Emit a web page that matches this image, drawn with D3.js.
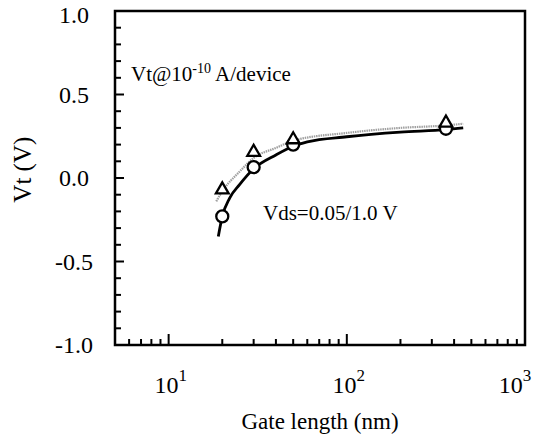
<!DOCTYPE html>
<html>
<head>
<meta charset="utf-8">
<script src="https://cdn.jsdelivr.net/npm/d3@7"></script>
<style>
  body { margin: 0; background: #fff; }
</style>
</head>
<body>
<svg id="chart"></svg>
<script>
// measured points
const gateLen = [20, 30, 50, 360];
const vtLow = [-0.23, 0.065, 0.2, 0.295];   // circles
const vtHigh = [-0.07, 0.155, 0.23, 0.33];  // triangles

// fitted curves
const fitLenLow = [19, 20, 22, 25, 30, 40, 50, 60, 100, 200, 360, 450];
const fitVtLow = [-0.35, -0.23, -0.12, -0.04, 0.055, 0.138, 0.19, 0.216, 0.247, 0.275, 0.29, 0.3];
const fitLenHigh = [18.5, 20, 25, 30, 40, 50, 100, 200, 360, 450];
const fitVtHigh = [-0.14, -0.08, 0.038, 0.12, 0.18, 0.223, 0.27, 0.3, 0.315, 0.325];

const yTicks = [-1.0, -0.5, 0.0, 0.5, 1.0];
const xTicks = [10, 100, 1000];

const width = 535, height = 443;
const margin = { top: 11, right: 10, bottom: 98, left: 115 };
const serif = "'Liberation Serif'";

const svg = d3.select("#chart")
    .attr("width", width)
    .attr("height", height);

const x = d3.scaleLog()
    .domain([5, 1000])
    .range([margin.left, width - margin.right]);

const y = d3.scaleLinear()
    .domain([-1, 1])
    .range([height - margin.bottom, margin.top]);

// frame
svg.append("rect")
    .attr("x", x.range()[0])
    .attr("y", y.range()[1])
    .attr("width", x.range()[1] - x.range()[0])
    .attr("height", y.range()[0] - y.range()[1])
    .attr("fill", "none")
    .attr("stroke", "#000")
    .attr("stroke-width", 2.5);

// y ticks, inward
const yMinor = d3.range(-10, 11).map(d => d / 10);
svg.append("g")
    .selectAll("line")
    .data(yMinor)
    .enter()
    .append("line")
    .attr("x1", x.range()[0])
    .attr("x2", d => x.range()[0] + (Math.abs(d * 2 - Math.round(d * 2)) < 1e-6 ? 9 : 6))
    .attr("y1", d => y(d))
    .attr("y2", d => y(d))
    .attr("stroke", "#000")
    .attr("stroke-width", 2);

svg.append("g")
    .selectAll("text")
    .data(yTicks)
    .enter()
    .append("text")
    .style("font-family", serif)
    .attr("x", 74)
    .attr("y", d => Math.max(y(d) + 8, 23))
    .attr("text-anchor", "middle")
    .attr("font-size", 24)
    .text(d => d.toFixed(1));

// x ticks, inward
const xMinor = [];
[1, 10, 100].forEach(dec => {
    for (let k = 1; k <= 9; k++) {
        const v = dec * k;
        if (v >= 5 && v <= 1000) xMinor.push(v);
    }
});
svg.append("g")
    .selectAll("line")
    .data(xMinor)
    .enter()
    .append("line")
    .attr("x1", d => x(d))
    .attr("x2", d => x(d))
    .attr("y1", y.range()[0])
    .attr("y2", d => y.range()[0] - (xTicks.includes(d) ? 11 : 6))
    .attr("stroke", "#000")
    .attr("stroke-width", 2);

const xLabels = svg.append("g")
    .selectAll("text")
    .data(xTicks)
    .enter()
    .append("text")
    .style("font-family", serif)
    .attr("x", d => Math.min(x(d) + 2, width - 20))
    .attr("y", 393)
    .attr("text-anchor", "middle")
    .attr("font-size", 24);
xLabels.append("tspan").text("10");
xLabels.append("tspan")
    .attr("dy", -12)
    .attr("font-size", 17)
    .text(d => Math.round(Math.log10(d)));

// axis titles
svg.append("text")
    .style("font-family", serif)
    .attr("x", 320)
    .attr("y", 429)
    .attr("text-anchor", "middle")
    .attr("font-size", 23)
    .text("Gate length (nm)");

svg.append("text")
    .style("font-family", serif)
    .attr("transform", `translate(31, ${y(0.05)}) rotate(-90)`)
    .attr("text-anchor", "middle")
    .attr("font-size", 25)
    .text("Vt  (V)");

// fit curves
const line = d3.line()
    .x(d => x(d[0]))
    .y(d => y(d[1]))
    .curve(d3.curveMonotoneX);

svg.append("path")
    .datum(d3.zip(fitLenHigh, fitVtHigh))
    .attr("d", line)
    .attr("fill", "none")
    .attr("stroke", "#a0a0a0")
    .attr("stroke-width", 2.2)
    .attr("stroke-dasharray", "1.5,0.8");

svg.append("path")
    .datum(d3.zip(fitLenLow, fitVtLow))
    .attr("d", line)
    .attr("fill", "none")
    .attr("stroke", "#000")
    .attr("stroke-width", 2.8);

// markers
svg.append("g")
    .selectAll("circle")
    .data(d3.zip(gateLen, vtLow))
    .enter()
    .append("circle")
    .attr("cx", d => x(d[0]))
    .attr("cy", d => y(d[1]))
    .attr("r", 6)
    .attr("fill", "#fff")
    .attr("stroke", "#000")
    .attr("stroke-width", 2.3);

const tri = d3.symbol().type(d3.symbolTriangle).size(70);
svg.append("g")
    .selectAll("path")
    .data(d3.zip(gateLen, vtHigh))
    .enter()
    .append("path")
    .attr("d", tri)
    .attr("transform", d => `translate(${x(d[0])}, ${y(d[1])})`)
    .attr("fill", "#fff")
    .attr("stroke", "#000")
    .attr("stroke-width", 2.3);

// annotations
const note = svg.append("text")
    .style("font-family", serif)
    .attr("x", 131)
    .attr("y", 81)
    .attr("font-size", 21);
note.append("tspan").text("Vt@10");
note.append("tspan").attr("dy", -8).attr("font-size", 14).text("-10");
note.append("tspan").attr("dy", 8).text(" A/device");

svg.append("text")
    .style("font-family", serif)
    .attr("x", 263)
    .attr("y", 220)
    .attr("font-size", 21)
    .text("Vds=0.05/1.0 V");
</script>
</body>
</html>
